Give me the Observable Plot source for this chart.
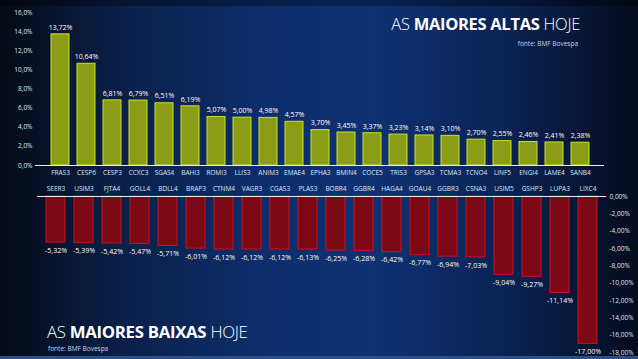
<!DOCTYPE html>
<html>
<head>
<meta charset="utf-8">
<script src="https://cdn.jsdelivr.net/npm/d3@7"></script>
<script src="https://cdn.jsdelivr.net/npm/@observablehq/plot@0.6"></script>
<style>
  html, body { margin: 0; padding: 0; background: #050b1a; }
  #stage {
    position: relative; width: 638px; height: 359px; overflow: hidden;
    background: linear-gradient(90deg, #050a16 0%, #0a1f47 18%, #0d2d6a 40%, #0f3274 58%, #0a2252 80%, #050c1e 100%);
    font-family: "Open Sans", "DejaVu Sans", sans-serif;
  }
  #topband { position:absolute; left:0; top:0; width:638px; height:6px; background: rgba(0,0,0,0.35); }
  #botband { position:absolute; left:0; top:356px; width:638px; height:3px; background:#2b4f86; }
  .plot { position: absolute; left: 0; }
  .title { position:absolute; color:#fff; white-space:nowrap; letter-spacing:-0.3px; }
  .title b { font-weight: 700; }
  .title span.l { font-weight: 300; }
  .src { position:absolute; color:#c8d2e4; font-size:6.5px; white-space:nowrap; }
</style>
</head>
<body>
<div id="stage">
  <div id="topband"></div>
  <div id="botband"></div>
  <div class="title" style="right:58px; top:12px; font-size:16.5px;"><span class="l">AS</span> <b>MAIORES ALTAS</b> <span class="l">HOJE</span></div>
  <div class="src" style="right:60px; top:39px;">fonte: BMF Bovespa</div>
  <div class="title" style="left:47px; top:320px; font-size:16.8px;"><span class="l">AS</span> <b>MAIORES BAIXAS</b> <span class="l">HOJE</span></div>
  <div class="src" style="left:48px; top:344px;">fonte: BMF Bovespa</div>
</div>
<script>
// ---- Data ----
const upTickers = ["FRAS3","CESP6","CESP3","CCXC3","SGAS4","BAHI3","ROMI3","LLIS3","ANIM3","EMAE4","EPHA3","BMIN4","COCE5","TRIS3","GPSA3","TCMA3","TCNO4","LINF5","ENGI4","LAME4","SANB4"];
const upValues  = [13.72, 10.64, 6.81, 6.79, 6.51, 6.19, 5.07, 5.00, 4.98, 4.57, 3.70, 3.45, 3.37, 3.23, 3.14, 3.10, 2.70, 2.55, 2.46, 2.41, 2.38];
const upTicks   = [0, 2, 4, 6, 8, 10, 12, 14, 16];

const downTickers = ["SEER3","USIM3","FJTA4","GOLL4","BDLL4","BRAP3","CTNM4","VAGR3","CGAS3","PLAS3","BOBR4","GGBR4","HAGA4","GOAU4","GGBR3","CSNA3","USIM5","GSHP3","LUPA3","LIXC4"];
const downValues  = [-5.32, -5.39, -5.42, -5.47, -5.71, -6.01, -6.12, -6.12, -6.12, -6.13, -6.25, -6.28, -6.42, -6.77, -6.94, -7.03, -9.04, -9.27, -11.14, -17.00];
const downTicks   = [0, -2, -4, -6, -8, -10, -12, -14, -16, -18];

const up = upTickers.map((t, i) => ({t, v: upValues[i]}));
const down = downTickers.map((t, i) => ({t, v: downValues[i]}));

const pct2 = v => v.toFixed(2).replace(".", ",") + "%";
const pct1 = v => v.toFixed(1).replace(".", ",") + "%";

const stage = document.getElementById("stage");
const font = "'Open Sans', 'DejaVu Sans', sans-serif";

const topPlot = Plot.plot({
  width: 638, height: 185,
  marginTop: 12, marginBottom: 20, marginLeft: 35, marginRight: 34,
  style: {background: "transparent", color: "#dfe6f2", fontFamily: font, fontSize: "6.5px"},
  x: {domain: upTickers, padding: 0.325, label: null, tickSize: 0, tickPadding: 5},
  y: {domain: [0, 16], ticks: upTicks, tickFormat: pct1, label: null, tickSize: 0, tickPadding: 3},
  marks: [
    Plot.barY(up, {x: "t", y: "v", fill: "#8b9c16", stroke: "#c9e42a", strokeWidth: 1}),
    Plot.ruleY([0], {stroke: "#e8eef8", strokeWidth: 1}),
    Plot.text(up, {x: "t", y: "v", text: d => pct2(d.v), dy: -7, fill: "#ffffff", fontSize: 7})
  ]
});
topPlot.classList.add("plot");
topPlot.style.top = "0px";
stage.appendChild(topPlot);

const botPlot = Plot.plot({
  width: 638, height: 184,
  marginTop: 21, marginBottom: 7, marginLeft: 37, marginRight: 32,
  style: {background: "transparent", color: "#dfe6f2", fontFamily: font, fontSize: "6.5px"},
  x: {domain: downTickers, padding: 0.31, axis: "top", label: null, tickSize: 0, tickPadding: 6},
  y: {domain: [-18, 0], ticks: downTicks, tickFormat: pct2, axis: "right", label: null, tickSize: 0, tickPadding: 3},
  marks: [
    Plot.barY(down, {x: "t", y: "v", fill: "#7b0a16", stroke: "#c8121f", strokeWidth: 1}),
    Plot.ruleY([0], {stroke: "#e8eef8", strokeWidth: 1}),
    Plot.text(down, {x: "t", y: "v", text: d => pct2(d.v), dy: 8, fill: "#ffffff", fontSize: 7})
  ]
});
botPlot.classList.add("plot");
botPlot.style.top = "175px";
stage.appendChild(botPlot);
</script>
</body>
</html>
